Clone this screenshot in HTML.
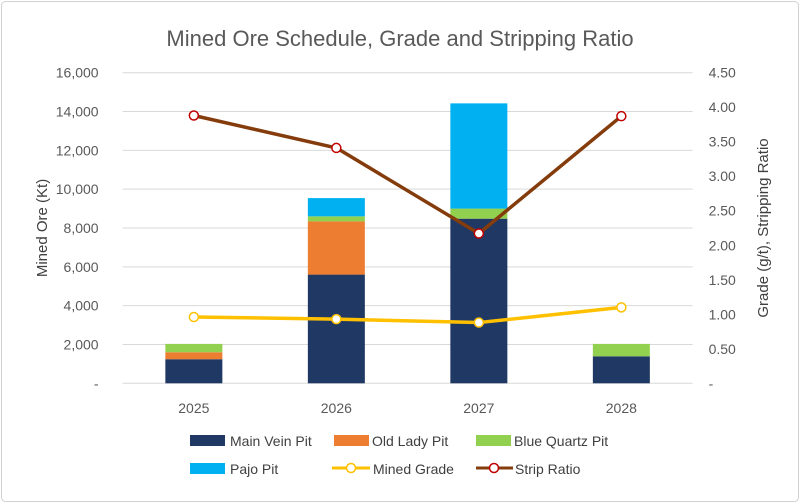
<!DOCTYPE html>
<html><head><meta charset="utf-8"><style>
body{margin:0;background:#fff;}
svg{display:block;font-family:"Liberation Sans",sans-serif;}
</style></head><body>
<svg id="chart" width="800" height="503" viewBox="0 0 800 503">
<rect x="1.5" y="1.5" width="797" height="500" rx="4" fill="#fff" stroke="#d0d0d0"/>
<text x="400" y="46" text-anchor="middle" font-size="22" fill="#595959">Mined Ore Schedule, Grade and Stripping Ratio</text>
<text transform="translate(47,228) rotate(-90)" text-anchor="middle" font-size="15" fill="#404040">Mined Ore  (Kt)</text>
<text transform="translate(768,228) rotate(-90)" text-anchor="middle" font-size="15" fill="#404040">Grade (g/t), Stripping Ratio</text>
<g id="grid"></g><g id="bars"></g><g id="lines"></g><g id="axes"></g>
<g id="legend" font-size="14" fill="#404040">
<rect x="190" y="435" width="35" height="11" fill="#203864"/>
<text x="230" y="446">Main Vein Pit</text>
<rect x="334" y="435" width="35" height="11" fill="#ed7d31"/>
<text x="372" y="446">Old Lady Pit</text>
<rect x="476" y="435" width="35" height="11" fill="#92d050"/>
<text x="514" y="446">Blue Quartz Pit</text>
<rect x="190" y="463" width="35" height="11" fill="#00b0f0"/>
<text x="230" y="474">Pajo Pit</text>
<line x1="332" y1="468" x2="370" y2="468" stroke="#ffc000" stroke-width="3"/>
<circle cx="351" cy="468" r="4.5" fill="#fff" stroke="#ffc000" stroke-width="1.5"/>
<text x="373" y="474">Mined Grade</text>
<line x1="476" y1="468" x2="513" y2="468" stroke="#843c0c" stroke-width="3"/>
<circle cx="494" cy="468" r="4.5" fill="#fff" stroke="#c00000" stroke-width="1.5"/>
<text x="515" y="474">Strip Ratio</text>
</g>
</svg>
<script>
const years = ["2025","2026","2027","2028"];
const mainVein = [1240, 5600, 8480, 1390];
const oldLady = [360, 2740, 0, 0];
const blueQuartz = [430, 260, 520, 640];
const pajo = [0, 940, 5420, 0];
const minedGrade = [0.96, 0.93, 0.88, 1.10];
const stripRatio = [3.88, 3.41, 2.17, 3.87];
const leftTicks = ["-","2,000","4,000","6,000","8,000","10,000","12,000","14,000","16,000"];
const rightTicks = ["-","0.50","1.00","1.50","2.00","2.50","3.00","3.50","4.00","4.50"];

const NS="http://www.w3.org/2000/svg";
const X0=122.6, X1=692.6, Y0=383.3, Y1=72.7;
const band=(X1-X0)/years.length;
const xC=i=>X0+band*(i+0.5);
const yL=v=>Y0-(v/16000)*(Y0-Y1);
const yR=v=>Y0-(v/4.5)*(Y0-Y1);
function mk(tag,attrs,parent){const e=document.createElementNS(NS,tag);for(const k in attrs)e.setAttribute(k,attrs[k]);document.getElementById(parent).appendChild(e);return e;}

leftTicks.forEach((t,i)=>{
  const y=yL(i*2000);
  const g=mk("line",{x1:X0,x2:X1,y1:y,y2:y,stroke:"#d9d9d9","stroke-width":1},"grid");
  
  
  const tx=mk("text",{x:X0-24,y:y+5,"text-anchor":"end","font-size":14,fill:"#595959"},"axes");
  tx.textContent=t;
  
  
});
rightTicks.forEach((t,i)=>{
  const y=yR(i*0.5);
  const tx=mk("text",{x:X1+16,y:y+5,"text-anchor":"start","font-size":14,fill:"#595959"},"axes");
  tx.textContent=t;
  
  
});
years.forEach((yr,i)=>{
  const tx=mk("text",{x:xC(i),y:413,"text-anchor":"middle","font-size":14,fill:"#595959"},"axes");
  tx.textContent=yr;
  
  
});
const series=[[mainVein,"#203864","main-vein"],[oldLady,"#ed7d31","old-lady"],[blueQuartz,"#92d050","blue-quartz"],[pajo,"#00b0f0","pajo"]];
const bw=band*0.4;
years.forEach((yr,i)=>{
  let base=0;
  series.forEach(([arr,col,nm])=>{
    const v=arr[i]; if(v<=0)return;
    const r=mk("rect",{x:xC(i)-bw/2,y:yL(base+v),width:bw,height:yL(base)-yL(base+v),fill:col},"bars");
    
    
    base+=v;
  });
});
function line(arr,scale,col,mcol,nm){
  const p=mk("polyline",{points:arr.map((v,i)=>xC(i)+","+scale(v)).join(" "),fill:"none",stroke:col,"stroke-width":3.5,"stroke-linejoin":"round"},"lines");
  
  
  arr.forEach((v,i)=>{
    const c=mk("circle",{cx:xC(i),cy:scale(v),r:4.5,fill:"#fff",stroke:mcol,"stroke-width":1.5},"lines");
    
    
  });
}
line(minedGrade,yR,"#ffc000","#ffc000","mined-grade");
line(stripRatio,yR,"#843c0c","#c00000","strip-ratio");
</script>
</body></html>
